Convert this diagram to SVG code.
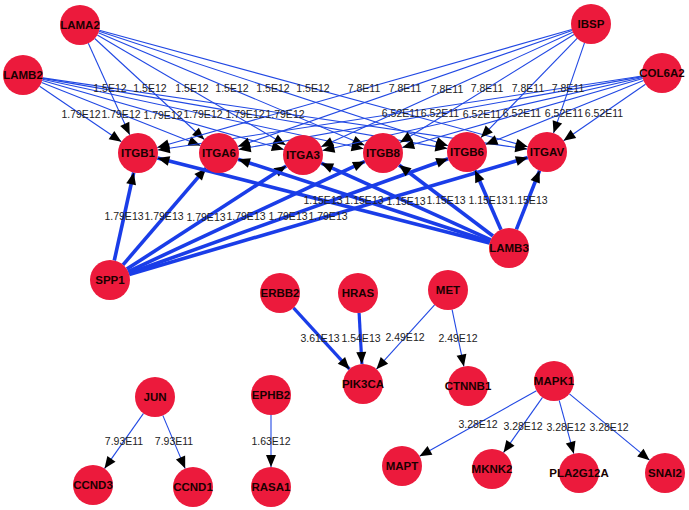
<svg xmlns="http://www.w3.org/2000/svg" width="689" height="510" viewBox="0 0 689 510">
<defs>
<marker id="arr" markerUnits="userSpaceOnUse" markerWidth="12" markerHeight="10" refX="12" refY="5" orient="auto" overflow="visible">
<path d="M0,0 L12,5 L0,10 z" fill="#000"/>
</marker>
<style>
.e{stroke:#2148e3;stroke-width:1.1;fill:none;marker-end:url(#arr)}
.t{stroke:#1a3de8;stroke-width:3.6;fill:none;marker-end:url(#arr)}
.m{stroke:#1a3de8;stroke-width:3.2;fill:none;marker-end:url(#arr)}
.el{font-family:"Liberation Sans",Arial,sans-serif;font-size:10.5px;fill:#222;text-anchor:middle}
.n circle{fill:#ec1a3c}
.n text{font-family:"Liberation Sans",Arial,sans-serif;font-size:11.5px;font-weight:bold;fill:#1a0000;text-anchor:middle}
</style>
</defs>
<rect width="689" height="510" fill="#fff"/>
<g id="connectors">
<line class="e" x1="88.3" y1="43.2" x2="129.7" y2="134.8"/>
<line class="e" x1="94.7" y1="38.5" x2="204.3" y2="139.5"/>
<line class="e" x1="97.3" y1="35.1" x2="285.7" y2="144.9"/>
<line class="e" x1="98.4" y1="32.8" x2="364.6" y2="145.2"/>
<line class="e" x1="99" y1="31.2" x2="448" y2="145.8"/>
<line class="e" x1="99.3" y1="30.2" x2="527.7" y2="146.8"/>
<line class="e" x1="39.6" y1="86.2" x2="121.4" y2="141.8"/>
<line class="e" x1="41.6" y1="82.4" x2="200.4" y2="145.6"/>
<line class="e" x1="42.2" y1="80.5" x2="283.8" y2="149.5"/>
<line class="e" x1="42.5" y1="79.2" x2="363.5" y2="148.8"/>
<line class="e" x1="42.7" y1="78.4" x2="447.3" y2="148.6"/>
<line class="e" x1="42.8" y1="77.9" x2="527.2" y2="149.1"/>
<line class="e" x1="571.8" y1="29.5" x2="157.2" y2="147.5"/>
<line class="e" x1="572.1" y1="30.6" x2="237.9" y2="146.4"/>
<line class="e" x1="572.8" y1="32.3" x2="321.2" y2="146.7"/>
<line class="e" x1="574" y1="34.5" x2="400" y2="142.5"/>
<line class="e" x1="577.1" y1="38.4" x2="480.9" y2="137.6"/>
<line class="e" x1="584.5" y1="42.9" x2="553.5" y2="133.1"/>
<line class="e" x1="642.2" y1="76" x2="157.8" y2="150"/>
<line class="e" x1="642.3" y1="76.6" x2="238.7" y2="149.4"/>
<line class="e" x1="642.5" y1="77.5" x2="322.5" y2="150.5"/>
<line class="e" x1="642.8" y1="78.5" x2="402.2" y2="147.5"/>
<line class="e" x1="643.5" y1="80.5" x2="485.5" y2="144.5"/>
<line class="e" x1="645.5" y1="84.3" x2="563.5" y2="140.7"/>
<line class="t" x1="114.3" y1="260.5" x2="133.7" y2="172.5"/>
<line class="t" x1="123" y1="264.8" x2="206" y2="168.2"/>
<line class="t" x1="126.8" y1="269.1" x2="286.2" y2="165.9"/>
<line class="t" x1="128.1" y1="271.6" x2="364.9" y2="161.4"/>
<line class="t" x1="128.8" y1="273.3" x2="448.2" y2="158.7"/>
<line class="t" x1="129.2" y1="274.4" x2="527.8" y2="157.6"/>
<line class="t" x1="489.6" y1="243" x2="157.4" y2="158"/>
<line class="t" x1="490" y1="241.8" x2="238" y2="159.2"/>
<line class="t" x1="490.8" y1="239.8" x2="321.2" y2="163.2"/>
<line class="t" x1="493" y1="236" x2="399" y2="165"/>
<line class="t" x1="501" y1="229.7" x2="475" y2="170.3"/>
<line class="t" x1="516.4" y1="229.4" x2="539.6" y2="170.6"/>
<line class="m" x1="293.5" y1="307.8" x2="349.5" y2="369.2"/>
<line class="m" x1="359.1" y1="313" x2="361.9" y2="364"/>
<line class="e" x1="434.6" y1="304.8" x2="376.4" y2="369.2"/>
<line class="e" x1="452.1" y1="309.6" x2="463.9" y2="366.4"/>
<line class="e" x1="143.5" y1="413.4" x2="104.5" y2="468.6"/>
<line class="e" x1="162.8" y1="415.4" x2="185.2" y2="468.6"/>
<line class="e" x1="271" y1="415" x2="271" y2="467"/>
<line class="e" x1="536.5" y1="390.8" x2="419.5" y2="456.2"/>
<line class="e" x1="542.5" y1="397.4" x2="503.5" y2="452.6"/>
<line class="e" x1="559.2" y1="400.3" x2="573.8" y2="453.7"/>
<line class="e" x1="569.4" y1="393.8" x2="649.6" y2="460.2"/>
<g>
<text class="el" x="110" y="92">1.5E12</text>
<text class="el" x="150" y="92">1.5E12</text>
<text class="el" x="192" y="92">1.5E12</text>
<text class="el" x="232" y="92">1.5E12</text>
<text class="el" x="273" y="92">1.5E12</text>
<text class="el" x="313" y="92">1.5E12</text>
<text class="el" x="81" y="118">1.79E12</text>
<text class="el" x="121" y="118">1.79E12</text>
<text class="el" x="163" y="119">1.79E12</text>
<text class="el" x="203" y="118">1.79E12</text>
<text class="el" x="245" y="118">1.79E12</text>
<text class="el" x="285" y="118">1.79E12</text>
<text class="el" x="364" y="92">7.8E11</text>
<text class="el" x="405" y="92">7.8E11</text>
<text class="el" x="447" y="93">7.8E11</text>
<text class="el" x="487" y="92">7.8E11</text>
<text class="el" x="528" y="92">7.8E11</text>
<text class="el" x="568" y="92">7.8E11</text>
<text class="el" x="401" y="117">6.52E11</text>
<text class="el" x="440" y="117">6.52E11</text>
<text class="el" x="482" y="118">6.52E11</text>
<text class="el" x="522" y="117">6.52E11</text>
<text class="el" x="564" y="117">6.52E11</text>
<text class="el" x="604" y="117">6.52E11</text>
<text class="el" x="124" y="220">1.79E13</text>
<text class="el" x="164" y="220">1.79E13</text>
<text class="el" x="206" y="221">1.79E13</text>
<text class="el" x="246" y="220">1.79E13</text>
<text class="el" x="288" y="220">1.79E13</text>
<text class="el" x="328" y="220">1.79E13</text>
<text class="el" x="323" y="204">1.15E13</text>
<text class="el" x="364" y="204">1.15E13</text>
<text class="el" x="406" y="205">1.15E13</text>
<text class="el" x="446" y="204">1.15E13</text>
<text class="el" x="488" y="204">1.15E13</text>
<text class="el" x="528" y="204">1.15E13</text>
<text class="el" x="320" y="342">3.61E13</text>
<text class="el" x="361" y="342">1.54E13</text>
<text class="el" x="405" y="341">2.49E12</text>
<text class="el" x="458" y="342">2.49E12</text>
<text class="el" x="124" y="445">7.93E11</text>
<text class="el" x="174" y="445">7.93E11</text>
<text class="el" x="271" y="445">1.63E12</text>
<text class="el" x="478" y="428">3.28E12</text>
<text class="el" x="523" y="430">3.28E12</text>
<text class="el" x="566" y="431">3.28E12</text>
<text class="el" x="609" y="431">3.28E12</text>
</g>
</g>
<g id="LAMA2" class="n"><circle cx="80" cy="25" r="20"/><text x="80" y="29">LAMA2</text></g>
<g id="LAMB2" class="n"><circle cx="23" cy="75" r="20"/><text x="23" y="79">LAMB2</text></g>
<g id="IBSP" class="n"><circle cx="591" cy="24" r="20"/><text x="591" y="28">IBSP</text></g>
<g id="COL6A2" class="n"><circle cx="662" cy="73" r="20"/><text x="662" y="77">COL6A2</text></g>
<g id="ITGB1" class="n"><circle cx="138" cy="153" r="20"/><text x="138" y="157">ITGB1</text></g>
<g id="ITGA6" class="n"><circle cx="219" cy="153" r="20"/><text x="219" y="157">ITGA6</text></g>
<g id="ITGA3" class="n"><circle cx="303" cy="155" r="20"/><text x="303" y="159">ITGA3</text></g>
<g id="ITGB8" class="n"><circle cx="383" cy="153" r="20"/><text x="383" y="157">ITGB8</text></g>
<g id="ITGB6" class="n"><circle cx="467" cy="152" r="20"/><text x="467" y="156">ITGB6</text></g>
<g id="ITGAV" class="n"><circle cx="547" cy="152" r="20"/><text x="547" y="156">ITGAV</text></g>
<g id="SPP1" class="n"><circle cx="110" cy="280" r="20"/><text x="110" y="284">SPP1</text></g>
<g id="LAMB3" class="n"><circle cx="509" cy="248" r="20"/><text x="509" y="252">LAMB3</text></g>
<g id="ERBB2" class="n"><circle cx="280" cy="293" r="20"/><text x="280" y="297">ERBB2</text></g>
<g id="HRAS" class="n"><circle cx="358" cy="293" r="20"/><text x="358" y="297">HRAS</text></g>
<g id="MET" class="n"><circle cx="448" cy="290" r="20"/><text x="448" y="294">MET</text></g>
<g id="PIK3CA" class="n"><circle cx="363" cy="384" r="20"/><text x="363" y="388">PIK3CA</text></g>
<g id="CTNNB1" class="n"><circle cx="468" cy="386" r="20"/><text x="468" y="390">CTNNB1</text></g>
<g id="MAPK1" class="n"><circle cx="554" cy="381" r="20"/><text x="554" y="385">MAPK1</text></g>
<g id="MAPT" class="n"><circle cx="402" cy="466" r="20"/><text x="402" y="470">MAPT</text></g>
<g id="MKNK2" class="n"><circle cx="492" cy="469" r="20"/><text x="492" y="473">MKNK2</text></g>
<g id="PLA2G12A" class="n"><circle cx="579" cy="473" r="20"/><text x="579" y="477">PLA2G12A</text></g>
<g id="SNAI2" class="n"><circle cx="665" cy="473" r="20"/><text x="665" y="477">SNAI2</text></g>
<g id="JUN" class="n"><circle cx="155" cy="397" r="20"/><text x="155" y="401">JUN</text></g>
<g id="CCND3" class="n"><circle cx="93" cy="485" r="20"/><text x="93" y="489">CCND3</text></g>
<g id="CCND1" class="n"><circle cx="193" cy="487" r="20"/><text x="193" y="491">CCND1</text></g>
<g id="EPHB2" class="n"><circle cx="271" cy="395" r="20"/><text x="271" y="399">EPHB2</text></g>
<g id="RASA1" class="n"><circle cx="271" cy="487" r="20"/><text x="271" y="491">RASA1</text></g>
</svg>
